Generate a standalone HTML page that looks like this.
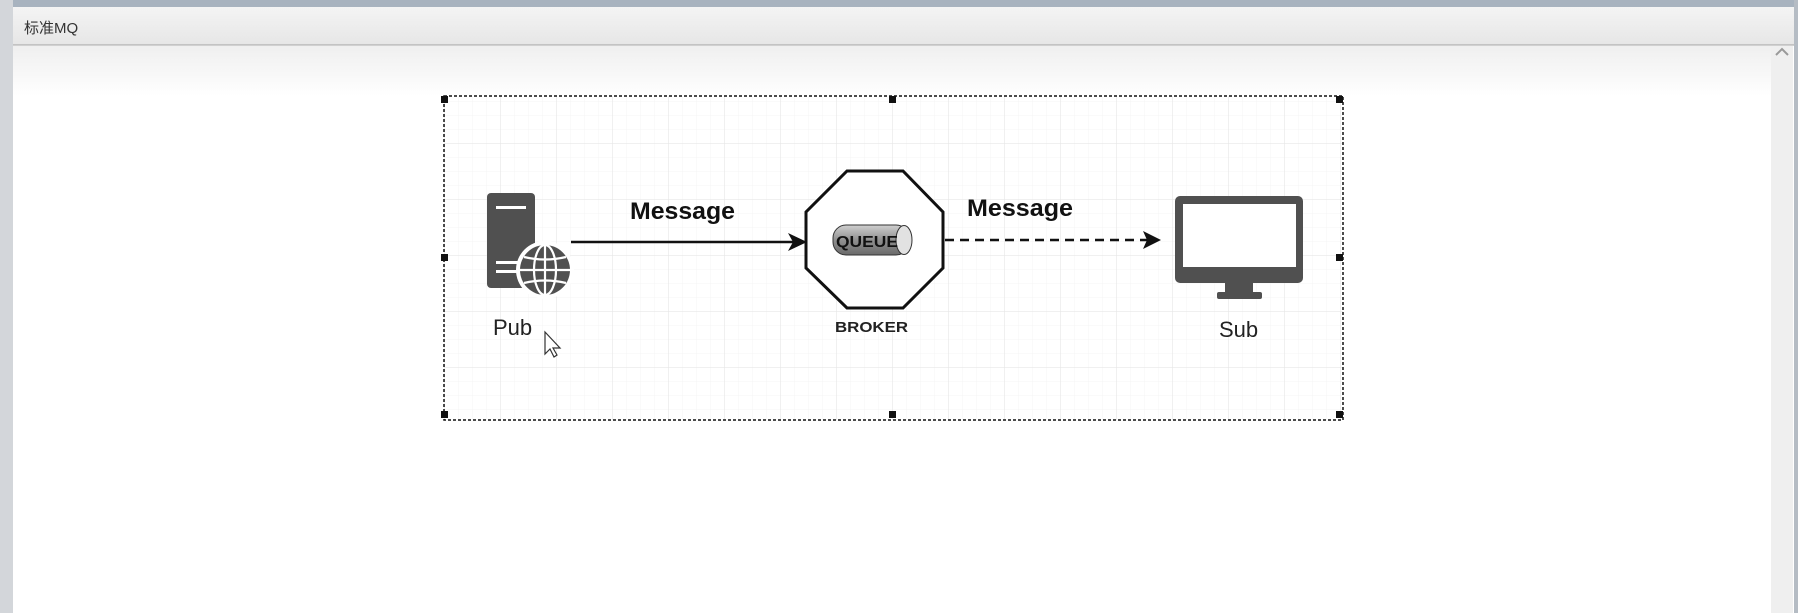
<!DOCTYPE html>
<html><head><meta charset="utf-8"><style>
html,body{margin:0;padding:0;width:1798px;height:613px;overflow:hidden;background:#fff;font-family:"Liberation Sans","Noto Sans CJK SC",sans-serif}
</style></head><body>
<svg width="1798" height="613" viewBox="0 0 1798 613" xmlns="http://www.w3.org/2000/svg">
<defs>
<linearGradient id="tb" x1="0" y1="0" x2="0" y2="1"><stop offset="0" stop-color="#f4f4f4"/><stop offset="1" stop-color="#e6e6e6"/></linearGradient>
<linearGradient id="fade" x1="0" y1="0" x2="0" y2="1"><stop offset="0" stop-color="#efefef"/><stop offset="1" stop-color="#ffffff"/></linearGradient>
<linearGradient id="cyl" x1="0" y1="0" x2="0" y2="1"><stop offset="0" stop-color="#d0d0d0"/><stop offset="0.5" stop-color="#909090"/><stop offset="1" stop-color="#6a6a6a"/></linearGradient>
<pattern id="minor" width="14" height="14" patternUnits="userSpaceOnUse" x="445" y="4"><path d="M14 0V14M0 14H14" stroke="#f4f4f4" stroke-width="1" fill="none"/></pattern>
<pattern id="major" width="56" height="56" patternUnits="userSpaceOnUse" x="445" y="32"><path d="M56 0V56M0 56H56" stroke="#e6e6e6" stroke-width="1.2" fill="none"/></pattern>
</defs>
<rect width="1798" height="613" fill="#fff"/>
<rect x="0" y="0" width="1798" height="7" fill="#a8b3bf"/>
<rect x="0" y="0" width="13" height="613" fill="#d3d6da"/>
<rect x="1794" y="0" width="4" height="613" fill="#b5bcc4"/>
<rect x="13" y="7" width="1781" height="38" fill="url(#tb)"/>
<line x1="13" y1="45" x2="1794" y2="45" stroke="#a0a0a0" stroke-width="1"/>
<text x="24" y="33" font-size="15" fill="#333">标准MQ</text>
<rect x="13" y="46" width="1758" height="50" fill="url(#fade)"/>
<rect x="1771" y="46" width="22" height="567" fill="#efefef"/>
<path d="M1776 55 L1782 49 L1788 55" stroke="#999" stroke-width="2" fill="none"/>

<rect x="444" y="96" width="899" height="324" fill="#fff"/>
<rect x="444" y="96" width="899" height="324" fill="url(#minor)"/>
<rect x="444" y="96" width="899" height="324" fill="url(#major)"/>
<rect x="444" y="96" width="899" height="324" fill="none" stroke="#111" stroke-width="1.5" stroke-dasharray="3,2"/>
<g fill="#111">
<rect x="441" y="96" width="7" height="7"/><rect x="889" y="96" width="7" height="7"/><rect x="1336" y="96" width="7" height="7"/>
<rect x="441" y="254" width="7" height="7"/><rect x="1336" y="254" width="7" height="7"/>
<rect x="441" y="411" width="7" height="7"/><rect x="889" y="411" width="7" height="7"/><rect x="1336" y="411" width="7" height="7"/>
</g>

<rect x="487" y="193" width="48" height="95" rx="4" fill="#505050"/>
<rect x="496" y="206" width="30" height="3" fill="#fff"/>
<rect x="496" y="261" width="30" height="3" fill="#fff"/>
<rect x="496" y="270" width="30" height="3" fill="#fff"/>
<circle cx="545" cy="270" r="29" fill="#fff"/>
<circle cx="545" cy="270" r="25" fill="#505050"/>
<g stroke="#fff" stroke-width="2.2" fill="none">
<ellipse cx="545" cy="270" rx="11" ry="25"/>
<line x1="545" y1="245" x2="545" y2="295"/>
<line x1="520" y1="270" x2="570" y2="270"/>
<path d="M524 257 Q545 262 566 257"/>
<path d="M524 283 Q545 278 566 283"/>
</g>
<text x="493" y="335" font-size="22" fill="#222">Pub</text>
<path d="M545 332 L545 354 L550 349 L554 357 L557 355 L553 348 L560 348 Z" fill="#fff" stroke="#333" stroke-width="1.2"/>

<line x1="571" y1="242" x2="798" y2="242" stroke="#111" stroke-width="2.5"/>
<path d="M807 242 L788 233 L793 242 L788 251 Z" fill="#111"/>
<text x="630" y="219" font-size="24" font-weight="bold" fill="#111" textLength="105" lengthAdjust="spacingAndGlyphs">Message</text>

<polygon points="847,171 903,171 943,212 943,268 903,308 847,308 806,268 806,212" fill="#fff" stroke="#111" stroke-width="3"/>
<rect x="833" y="225" width="76" height="30" rx="13" fill="url(#cyl)" stroke="#333" stroke-width="1"/>
<ellipse cx="904" cy="240" rx="8" ry="14.5" fill="#e2e2e2" stroke="#333" stroke-width="1"/>
<text x="836" y="247" font-size="16" font-weight="bold" fill="#111" textLength="62" lengthAdjust="spacingAndGlyphs">QUEUE</text>
<text x="835" y="332" font-size="15" font-weight="bold" fill="#222" textLength="73" lengthAdjust="spacingAndGlyphs">BROKER</text>

<line x1="945" y1="240" x2="1150" y2="240" stroke="#111" stroke-width="2.5" stroke-dasharray="9,6"/>
<path d="M1161 240 L1143 231 L1147 240 L1143 249 Z" fill="#111"/>
<text x="967" y="216" font-size="24" font-weight="bold" fill="#111" textLength="106" lengthAdjust="spacingAndGlyphs">Message</text>

<rect x="1175" y="196" width="128" height="87" rx="5" fill="#505050"/>
<rect x="1183" y="204" width="113" height="63" fill="#fff"/>
<rect x="1225" y="282" width="28" height="12" fill="#505050"/>
<rect x="1217" y="292" width="45" height="7" rx="2" fill="#505050"/>
<text x="1219" y="337" font-size="22" fill="#222">Sub</text>
</svg>
</body></html>
